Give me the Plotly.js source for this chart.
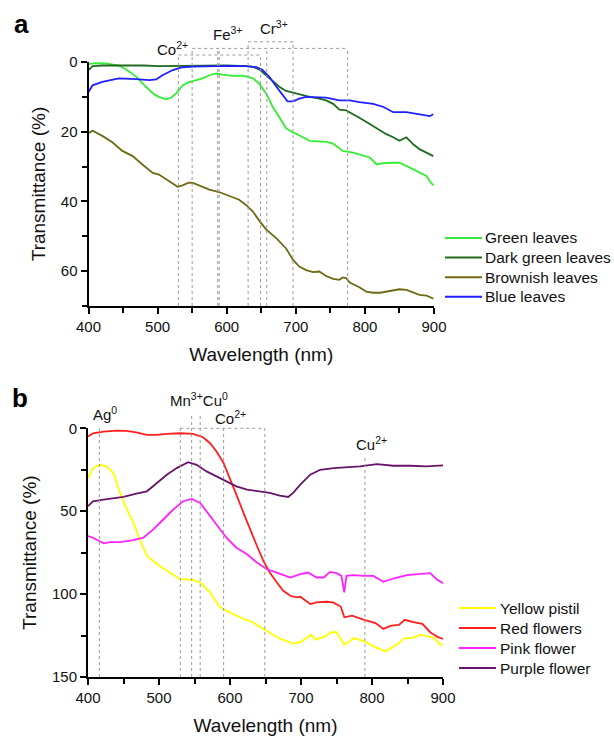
<!DOCTYPE html>
<html>
<head>
<meta charset="utf-8">
<script src="https://cdn.plot.ly/plotly-3.0.1.min.js"></script>
<style>html,body{margin:0;padding:0;background:#fff;}#chart{width:614px;height:737px;}</style>
</head>
<body>
<div id="chart"></div>
<script>
// ---------- Panel a data ----------
const greenX = [400,410,425,444,455,469,480,488,495,502,512,520,527,536,545,551,565,575,585,594,609,620,628,638,647,657,667,676,686,696,705,720,734,744,754,768,783,792,807,817,827,841,850,865,879,889,894,899];
const greenY = [0.6,0.3,0.4,1.0,2.2,4.2,6.5,8,9.3,10,10.7,10.2,9,6.7,5.8,5.5,4.7,3.8,3.3,3.6,4,3.9,4.1,4.7,6.2,9,13,15.8,19,20.2,21,22.6,22.8,22.9,23.4,25.5,26,26.5,27.4,29.4,29,28.9,28.9,30.3,31.8,32.7,34.2,35.4];

const darkX = [400,406,420,450,480,500,530,560,600,628,638,647,657,667,676,686,696,705,720,734,744,754,763,773,783,792,807,822,831,841,850,860,870,879,889,899];
const darkY = [2.3,1.2,1.0,0.9,1.0,1.2,1.1,1.0,1.0,1.2,1.4,2.1,3.8,5.7,7.1,8.3,8.8,9.4,10,10.5,11,12,13.7,13.9,14.9,16,17.8,19.7,20.7,21.6,22.6,21.6,23.6,25,26,27];

const brownX = [400,406,420,435,449,464,478,493,502,517,529,536,545,551,560,575,589,603,618,628,638,647,657,672,686,696,705,715,725,734,744,754,763,768,773,778,792,802,812,822,836,850,860,870,879,889,899];
const brownY = [20.4,19.7,21.2,23.1,25.5,27,29.4,31.8,32.3,34.2,35.8,35.4,34.6,34.7,35.5,36.6,37.3,38.3,39.5,41,42.9,45.5,48,50.6,53.5,56.8,58.7,59.7,60.3,60.1,61.4,62.2,62.5,61.8,62,63.3,64.6,65.9,66.2,66.2,65.6,65.2,65.4,66.2,66.8,67,67.9];

const blueX = [400,406,420,444,469,488,498,507,522,536,551,575,599,628,643,652,662,672,681,688,696,705,715,734,744,763,778,792,812,827,841,860,879,894,899];
const blueY = [8.6,6.7,5.7,4.7,4.9,5.2,5,3.8,2.3,1.5,1.3,1.1,1.1,1.2,1.5,2.3,4.3,7.1,9.6,11.3,11.3,10.5,10,10,10.2,11,11,11.5,12,12.9,14.4,14.4,14.9,15.5,15];

// ---------- Panel b data ----------
const yellowX = [400,407,417,426,436,445,454,464,473,483,492,501,515,530,548,558,572,586,595,609,619,630,652,668,690,701,715,720,734,742,750,761,775,789,802,819,827,838,846,857,868,877,888,896,900];
const yellowY = [30,24,22,23,27,39,48,57,67,77,80,83,87,91,91.4,93,99,108,110,113,115,116.5,122.5,126.5,130,128.5,124.5,127.5,125.5,123,123,130.5,126.5,128.5,131.5,134.5,132.5,129.5,126.5,126.5,124.5,125.5,126.5,130.5,130.5];

const redX = [400,407,422,440,454,468,483,497,511,530,548,562,572,581,591,600,609,619,628,638,647,656,666,675,685,694,699,713,722,736,745,756,761,772,789,805,816,827,838,846,860,871,882,893,900];
const redY = [5,3,2,1.4,1.6,2.4,4,4,3.4,3,3.4,5.4,9,14,21,30,40,51,61,71,80,87,93,98,101,102,101.6,106,105,104.6,105,107.5,114,113,115.5,117.5,121,119,118.6,115.5,117,118,123,126,127];

const pinkX = [400,407,422,431,445,464,478,492,506,520,534,546,558,572,586,595,609,624,638,652,666,685,699,710,722,732,741,750,757,761,764,774,788,802,816,830,849,868,882,891,900];
const pinkY = [65,66,69.4,68.6,68.6,67.4,66,61,55,49,44,42.6,45,53,61,66,72,76,81,85,87,90,88,87,90,90,86.6,87.4,89,99,89,88.6,89,89,92.6,90.6,88.6,88,87.4,91,93.4];

const purpleX = [400,407,422,436,450,468,483,497,511,525,541,553,567,581,595,609,624,642,656,670,682,689,699,713,727,746,764,783,807,830,854,877,900];
const purpleY = [47,44,43,42,41.4,39.4,38,33,28,24,20.4,22,26,29,32,35,37,38,39,40.6,41.4,39,34,28,25,24,23.6,23,21.6,22.6,22.6,23,22.4];

// ---------- Names / colours ----------
const namesA = ['Green leaves','Dark green leaves','Brownish leaves','Blue leaves'];
const colorsA = ['#33ee33','#1f6b1f','#6e6a14','#2020ff'];
const namesB = ['Yellow pistil','Red flowers','Pink flower','Purple flower'];
const colorsB = ['#ffff00','#ff1f1f','#ff22ff','#6a136a'];

// ---------- Reference (dashed) lines and ion labels ----------
const vlineA_x   = [530,550,587,589,631,649,658,696,775];
const vlineA_top = [-2.0,-3.9,-3.9,-3.9,-5.8,-2.0,-3.9,-5.8,-3.9];
const hlineA_from = [530,550,631];
const hlineA_to   = [649,775,696];
const hlineA_val  = [-2.0,-3.9,-5.8];
const ionLabelsA = ['Co<sup>2+</sup>','Fe<sup>3+</sup>','Cr<sup>3+</sup>'];
const ionXA = [521,602,669];
const ionYA = [-4.0,-8.3,-9.8];

const vlineB_x   = [416,530,546,558,591,649,790];
const vlineB_top = [0,0,-9,-9,0,0,18];
const hlineB_from = [530];
const hlineB_to   = [649];
const hlineB_val  = [0];
const ionLabelsB = ['Ag<sup>0</sup>','Mn<sup>3+</sup>Cu<sup>0</sup>','Co<sup>2+</sup>','Cu<sup>2+</sup>'];
const ionXB = [424,556,600,799];
const ionYB = [-9.2,-17.6,-6.8,8.9];

const rangeAx = [400,900], rangeAy = [70,0];
const rangeBx = [400,900], rangeBy = [150,0];

// ---------- traces ----------
const traces = [];
const dataA = [[greenX,greenY],[darkX,darkY],[brownX,brownY],[blueX,blueY]];
dataA.forEach((d,i)=>traces.push({x:d[0],y:d[1],type:'scatter',mode:'lines',name:namesA[i],
  line:{color:colorsA[i],width:1.8},xaxis:'x',yaxis:'y',showlegend:false}));
const dataB = [[yellowX,yellowY],[redX,redY],[pinkX,pinkY],[purpleX,purpleY]];
dataB.forEach((d,i)=>traces.push({x:d[0],y:d[1],type:'scatter',mode:'lines',name:namesB[i],
  line:{color:colorsB[i],width:1.8},xaxis:'x2',yaxis:'y2',showlegend:false}));

// data value -> axis-domain fraction (keeps items outside the range visible)
function frac(v,r){return (v-r[0])/(r[1]-r[0]);}

const dash = {color:'#9a9a9a',width:1,dash:'3px,3px'};
const shapes = [];
const annotations = [];
const FONT = 'Liberation Sans, Arial, sans-serif';
const annFont = {family:FONT,size:15,color:'#111'};

function addRefs(vx,vt,hf,ht,hv,labels,lx,ly,rx,ry,xa,ya){
  vx.forEach((x,i)=>shapes.push({type:'line',xref:xa+' domain',yref:ya+' domain',
    x0:frac(x,rx),x1:frac(x,rx),y0:frac(ry[0],ry),y1:frac(vt[i],ry),line:dash}));
  hf.forEach((f,i)=>shapes.push({type:'line',xref:xa+' domain',yref:ya+' domain',
    x0:frac(f,rx),x1:frac(ht[i],rx),y0:frac(hv[i],ry),y1:frac(hv[i],ry),line:dash}));
  labels.forEach((t,i)=>annotations.push({text:t,xref:xa+' domain',yref:ya+' domain',
    x:frac(lx[i],rx),y:frac(ly[i],ry),showarrow:false,font:annFont,xanchor:'center',yanchor:'middle'}));
}
addRefs(vlineA_x,vlineA_top,hlineA_from,hlineA_to,hlineA_val,ionLabelsA,ionXA,ionYA,rangeAx,rangeAy,'x','y');
addRefs(vlineB_x,vlineB_top,hlineB_from,hlineB_to,hlineB_val,ionLabelsB,ionXB,ionYB,rangeBx,rangeBy,'x2','y2');

// panel letters
annotations.push({text:'<b>a</b>',xref:'paper',yref:'paper',x:12/614,y:1-24/737,xanchor:'left',yanchor:'middle',showarrow:false,font:{family:FONT,size:26,color:'#000'}});
annotations.push({text:'<b>b</b>',xref:'paper',yref:'paper',x:10/614,y:1-398/737,xanchor:'left',yanchor:'middle',showarrow:false,font:{family:FONT,size:26,color:'#000'}});

// hand-built legends (line sample + text), positioned in page pixels
function addLegend(names,colors,x0,x1,tx,y0,dy){
  names.forEach((n,i)=>{
    const yy = 1-(y0+i*dy)/737;
    shapes.push({type:'line',xref:'paper',yref:'paper',x0:x0/614,x1:x1/614,y0:yy,y1:yy,line:{color:colors[i],width:2}});
    annotations.push({text:n,xref:'paper',yref:'paper',x:tx/614,y:yy,xanchor:'left',yanchor:'middle',showarrow:false,
      font:{family:FONT,size:15.5,color:'#111'}});
  });
}
addLegend(namesA,colorsA,445,482,483,238,19.6);
addLegend(namesB,colorsB,459,496,498,608,20);

function axis(extra){
  return Object.assign({showline:true,linecolor:'#000',linewidth:2,ticks:'outside',ticklen:6,tickwidth:2,
    tickcolor:'#000',showgrid:false,zeroline:false,tickfont:{size:15,color:'#111'},fixedrange:true},extra);
}
const titleFont = {size:19,color:'#111'};
const minorX = {dtick:50,ticks:'outside',ticklen:5,tickwidth:2,tickcolor:'#000'};

const layout = {
  width:614,height:737,margin:{l:0,r:0,t:0,b:0},paper_bgcolor:'#fff',plot_bgcolor:'#fff',
  font:{family:FONT,color:'#111'},
  showlegend:false,
  xaxis: axis({domain:[88.5/614,434/614],range:rangeAx,dtick:100,anchor:'y',minor:minorX,
    title:{text:'Wavelength (nm)',font:titleFont,standoff:14}}),
  yaxis: axis({domain:[1-306/737,1-62/737],range:rangeAy,dtick:20,anchor:'x',
    minor:{dtick:10,ticks:'outside',ticklen:5,tickwidth:2,tickcolor:'#000'},
    title:{text:'Transmittance (%)',font:titleFont,standoff:10}}),
  xaxis2: axis({domain:[88/614,443/614],range:rangeBx,dtick:100,anchor:'y2',minor:minorX,
    title:{text:'Wavelength (nm)',font:titleFont,standoff:14}}),
  yaxis2: axis({domain:[1-677/737,1-428.3/737],range:rangeBy,dtick:50,anchor:'x2',
    minor:{dtick:25,ticks:'outside',ticklen:5,tickwidth:2,tickcolor:'#000'},
    title:{text:'Transmittance (%)',font:titleFont,standoff:10}}),
  shapes:shapes,annotations:annotations
};
Plotly.newPlot('chart',traces,layout,{displayModeBar:false,staticPlot:true});
</script>
</body>
</html>
